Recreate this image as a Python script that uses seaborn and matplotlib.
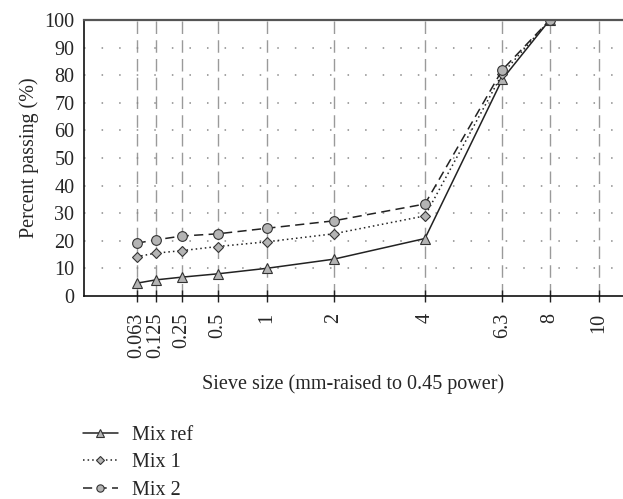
import numpy as np
import pandas as pd
import matplotlib
matplotlib.use("Agg")
import matplotlib.pyplot as plt
import seaborn as sns

sieve_sizes = [0.063, 0.125, 0.25, 0.5, 1, 2, 4, 6.3, 8]
tick_sizes = [0.063, 0.125, 0.25, 0.5, 1, 2, 4, 6.3, 8, 10]
tick_labels = ["0.063", "0.125", "0.25", "0.5", "1", "2", "4", "6.3", "8", "10"]
mix_ref = [4.6, 5.8, 6.8, 8.0, 10.0, 13.3, 20.8, 78.5, 100]
mix_1 = [14.2, 15.5, 16.4, 17.9, 19.6, 22.5, 29.0, 80.5, 100]
mix_2 = [19.1, 20.3, 21.7, 22.5, 24.5, 27.2, 33.3, 81.9, 100]
series_names = ["Mix ref", "Mix 1", "Mix 2"]
power = 0.45

sns.set_theme(style="white")
plt.rcParams["font.family"] = ["Liberation Serif", "DejaVu Serif"]

FS = 14.5
fig = plt.figure(figsize=(6.23, 4.99), dpi=100)
ax = fig.add_axes([0.1348, 0.407, 0.8652, 0.553])

xs = np.array(sieve_sizes) ** power
styles = [("-", "^", 7), ((0, (1, 2)), "D", 5.5), ((0, (6, 3.5)), "o", 7)]
for name, vals, (ls, mk, ms) in zip(series_names, [mix_ref, mix_1, mix_2], styles):
    df = pd.DataFrame({"x": xs, "y": vals})
    sns.lineplot(data=df, x="x", y="y", ax=ax, color="#222222", linestyle=ls,
                 linewidth=1.1, marker=mk, markersize=ms, markerfacecolor="#b4b4b4",
                 markeredgecolor="#333333", markeredgewidth=0.8, label=name, legend=False)

tx = np.array(tick_sizes) ** power
ax.set_xticks(tx)
ax.set_xticklabels(tick_labels, rotation=90, fontsize=FS)
ax.set_xlim(0, 2.95)
ax.set_ylim(0, 100)
ax.set_yticks(range(0, 101, 10))
ax.tick_params(axis="y", left=False, labelsize=FS, length=0, pad=7)
ax.tick_params(axis="x", bottom=True, direction="inout", length=8, width=1,
               color="#222222", pad=8)

for v in tx:
    ax.axvline(v, color="#9a9a9a", linestyle=(0, (9, 4.5)), linewidth=1, zorder=0)
for h in range(10, 100, 10):
    ax.axhline(h, color="#8a8a8a", linestyle=(0, (1, 10.5)), linewidth=1.1, zorder=0)

for s in ["left", "bottom"]:
    ax.spines[s].set_color("#111111")
    ax.spines[s].set_linewidth(1.2)
ax.spines["top"].set_color("#555555")
ax.spines["top"].set_linewidth(1.6)
ax.spines["right"].set_visible(False)

ax.set_xlabel("Sieve size (mm-raised to 0.45 power)", fontsize=FS, labelpad=12)
ax.set_ylabel("Percent passing (%)", fontsize=FS, labelpad=4)

handles, labels = ax.get_legend_handles_labels()
fig.legend(handles, labels, loc="upper left", bbox_to_anchor=(0.133, 0.146),
           frameon=False, fontsize=FS, handlelength=1.75, handletextpad=0.7,
           labelspacing=0.4, borderaxespad=0, borderpad=0, markerscale=0.75)

fig.savefig("out.png", dpi=100)
